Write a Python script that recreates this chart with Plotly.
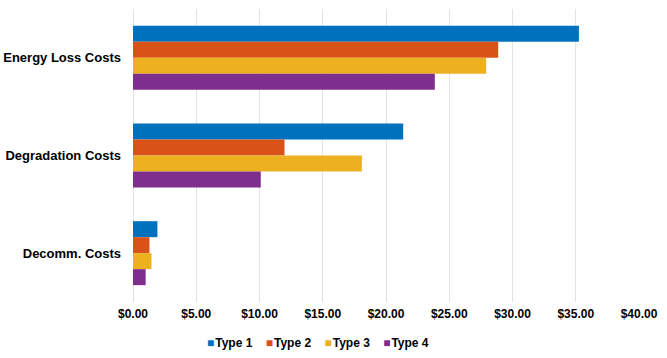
import plotly.graph_objects as go

categories = ['Energy Loss Costs', 'Degradation Costs', 'Decomm. Costs']
series_names = ['Type 1', 'Type 2', 'Type 3', 'Type 4']
type1 = [35.25, 21.36, 1.93]
type2 = [28.87, 11.98, 1.30]
type3 = [27.92, 18.09, 1.46]
type4 = [23.86, 10.10, 1.00]
colors = ['#0072BD', '#D95319', '#EDB120', '#7E2F8E']

fig = go.Figure()
for name, vals, col in zip(series_names, [type1, type2, type3, type4], colors):
    fig.add_trace(go.Bar(
        y=categories, x=vals, name=name, orientation='h',
        marker=dict(color=col, line=dict(width=0)),
        showlegend=False,
    ))

font = dict(family='Liberation Sans, Arial, sans-serif', color='#000000', weight='bold')

# legend drawn as one line of text with coloured square glyphs
legend_text = '&nbsp;&nbsp;&nbsp;&nbsp;'.join(
    f"<span style='color:{c}'>■</span>&#8202;{n}" for n, c in zip(series_names, colors)
)

fig.update_layout(
    width=667, height=358,
    margin=dict(l=132.5, r=28.3, t=9, b=56),
    plot_bgcolor='white', paper_bgcolor='white',
    barmode='group', bargap=0.345, bargroupgap=0,
    font=dict(size=12, **font),
    showlegend=False,
    annotations=[dict(
        text=legend_text, xref='paper', yref='paper',
        x=0.3655, y=-0.14, xanchor='center', yanchor='middle',
        showarrow=False, font=dict(size=12, **font),
    )],
)
fig.update_xaxes(
    range=[0, 40], dtick=5, tickformat='$.2f',
    showgrid=True, gridcolor='#e3e3e3', gridwidth=1,
    zeroline=True, zerolinecolor='#e3e3e3', zerolinewidth=1,
    showline=False, ticks='', ticklabelstandoff=3, automargin=False,
    tickfont=dict(size=12, **font),
)
fig.update_yaxes(
    autorange='reversed', showgrid=False, showline=False,
    ticks='', ticklabelstandoff=11, automargin=False,
    tickfont=dict(size=13, **font),
)

fig.write_html('out.html', config={'displayModeBar': False},
               post_script="document.body.style.margin='0';")
